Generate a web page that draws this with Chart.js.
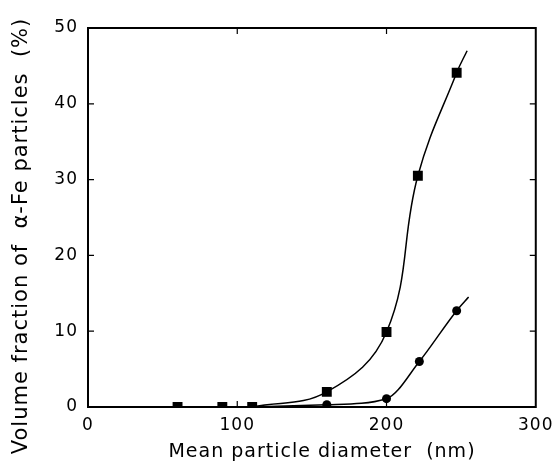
<!DOCTYPE html>
<html>
<head>
<meta charset="utf-8">
<script src="https://cdn.jsdelivr.net/npm/chart.js@4"></script>
<style>
  html, body { margin: 0; padding: 0; background: #fff; }
  #wrap { width: 560px; height: 473px; }
</style>
</head>
<body>
<div id="wrap"><canvas id="chart"></canvas></div>
<script>
const squareX = [60, 90, 110, 160, 200, 221, 247];
const squareY = [0, 0, 0, 2.0, 9.9, 30.5, 44.1];
const circleX = [160, 200, 222, 247];
const circleY = [0.3, 1.1, 6.0, 12.7];

// knots of the hand-drawn curves (start and end)
const squareCurveX = [110, 160, 200, 221, 247, 254];
const squareCurveY = [0, 2.0, 9.9, 30.5, 44.1, 47.0];
const circleCurveX = [110, 160, 200, 222, 247, 255];
const circleCurveY = [0, 0.3, 1.1, 6.0, 12.7, 14.5];

const xTicks = [0, 100, 200, 300];
const yTicks = [0, 10, 20, 30, 40, 50];

const xTitle = 'Mean particle diameter  (nm)';
const yTitle = 'Volume fraction of  α-Fe particles  (%)';

const toXY = (xs, ys) => xs.map((x, i) => ({ x: x, y: ys[i] }));
const font = { family: 'DejaVu Sans', size: 17 };

// the print has wide letter spacing; canvas state is reset on resize so set it every draw
const spacingPlugin = {
  id: 'spacing',
  beforeDraw(chart) {
    chart.ctx.letterSpacing = '1px';
  }
};

// frame with inward ticks on all four sides, plus the axis titles
const framePlugin = {
  id: 'frame',
  afterDraw(chart) {
    const { ctx, chartArea: a, scales } = chart;
    ctx.save();
    ctx.strokeStyle = '#000';
    ctx.lineWidth = 2;
    ctx.strokeRect(a.left, a.top, a.right - a.left, a.bottom - a.top);
    ctx.lineWidth = 1.2;
    ctx.beginPath();
    xTicks.slice(1, -1).forEach(v => {
      const px = scales.x.getPixelForValue(v);
      ctx.moveTo(px, a.bottom); ctx.lineTo(px, a.bottom - 6);
      ctx.moveTo(px, a.top); ctx.lineTo(px, a.top + 6);
    });
    yTicks.slice(1, -1).forEach(v => {
      const py = scales.y.getPixelForValue(v);
      ctx.moveTo(a.left, py); ctx.lineTo(a.left + 6, py);
      ctx.moveTo(a.right, py); ctx.lineTo(a.right - 6, py);
    });
    ctx.stroke();

    ctx.fillStyle = '#000';
    ctx.textAlign = 'center';
    ctx.textBaseline = 'middle';
    ctx.font = '19px "DejaVu Sans"';
    ctx.fillText(xTitle, 322, 452);
    ctx.translate(22, 236);
    ctx.rotate(-Math.PI / 2);
    ctx.font = '21px "DejaVu Sans"';
    ctx.fillText(yTitle, 0, 0);
    ctx.restore();
  }
};

new Chart(document.getElementById('chart'), {
  type: 'scatter',
  data: {
    datasets: [
      {
        data: toXY(squareCurveX, squareCurveY),
        showLine: true,
        tension: 0.4,
        borderColor: '#000',
        borderWidth: 1.5,
        pointRadius: 0
      },
      {
        data: toXY(circleCurveX, circleCurveY),
        showLine: true,
        cubicInterpolationMode: 'monotone',
        borderColor: '#000',
        borderWidth: 1.5,
        pointRadius: 0
      },
      {
        data: toXY(squareX, squareY),
        pointStyle: 'rect',
        pointRadius: 7,
        backgroundColor: '#000',
        borderColor: '#000',
        borderWidth: 0
      },
      {
        data: toXY(circleX, circleY),
        pointStyle: 'circle',
        pointRadius: 4.5,
        backgroundColor: '#000',
        borderColor: '#000',
        borderWidth: 0
      }
    ]
  },
  options: {
    responsive: true,
    maintainAspectRatio: false,
    animation: false,
    layout: { padding: { top: 28, right: 22, left: 0, bottom: 0 } },
    plugins: {
      legend: { display: false },
      tooltip: { enabled: false }
    },
    scales: {
      x: {
        type: 'linear',
        min: 0,
        max: 300,
        afterBuildTicks: s => { s.ticks = xTicks.map(v => ({ value: v })); },
        afterFit: s => { s.height = 66; },
        grid: { display: false, drawTicks: false },
        border: { display: false },
        ticks: { color: '#000', font: font, padding: 8, maxRotation: 0 }
      },
      y: {
        type: 'linear',
        min: 0,
        max: 50,
        afterBuildTicks: s => { s.ticks = yTicks.map(v => ({ value: v })); },
        afterFit: s => { s.width = 88; },
        grid: { display: false, drawTicks: false },
        border: { display: false },
        ticks: { color: '#000', font: font, padding: 10 }
      }
    }
  },
  plugins: [spacingPlugin, framePlugin]
});
</script>
</body>
</html>
